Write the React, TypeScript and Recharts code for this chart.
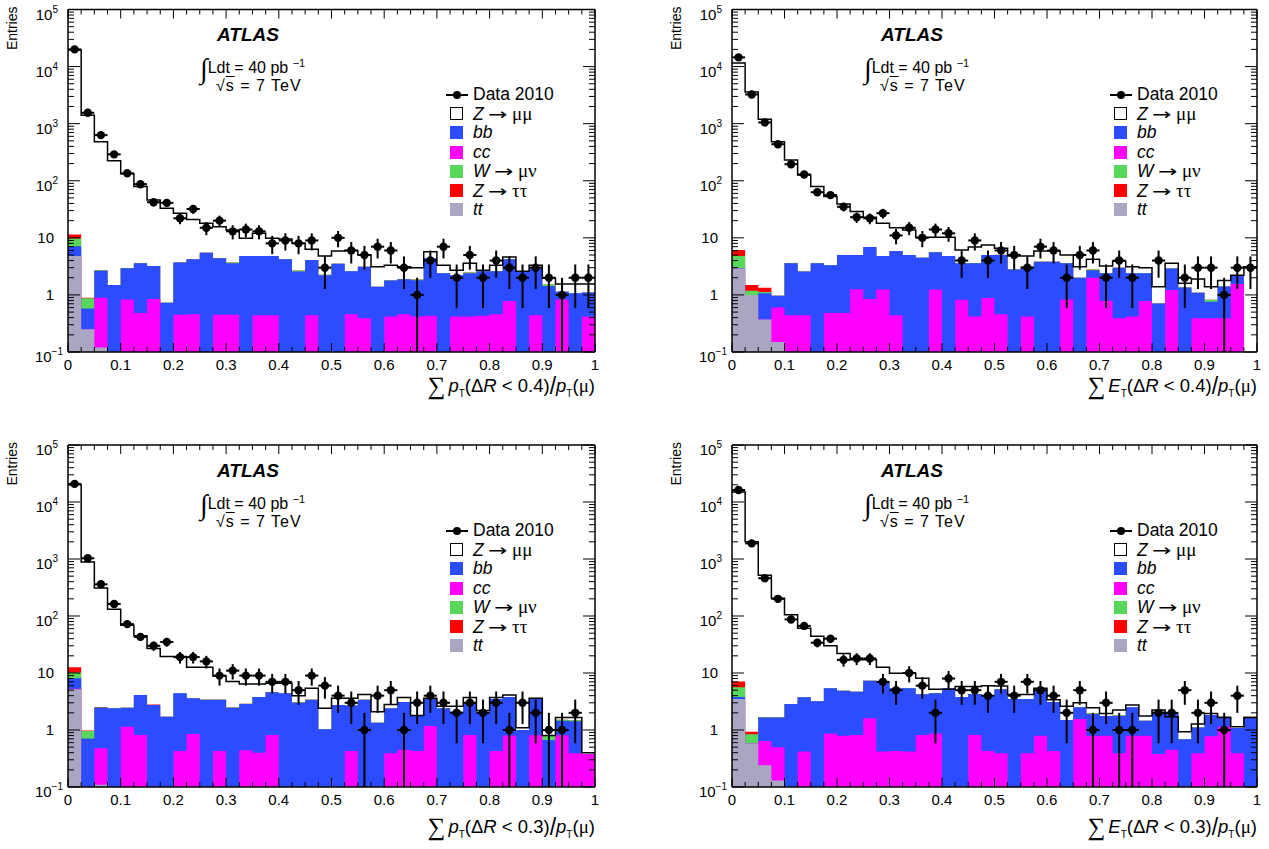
import React from "react";
import {
  ComposedChart,
  Area,
  Line,
  Scatter,
  ErrorBar,
  XAxis,
  YAxis,
  Legend,
  ReferenceLine,
} from "recharts";

const FONT = '"Liberation Sans", Arial, Helvetica, sans-serif';
const GREEK = '"Liberation Serif", "DejaVu Serif", serif';
const BIN_W = 0.025;
const N_BINS = 40;

const COLORS = {
  bb: "#2b4cff",
  cc: "#ff00ff",
  wmn: "#58d85a",
  ztt: "#ff0000",
  tt: "#a8a6c1",
};

// axis ticks (majors get labels, the rest are minor tick marks)
const xTicks = Array.from({ length: N_BINS + 1 }, (_, i) => i * BIN_W);
const yMajor = [0.1, 1, 10, 100, 1000, 10000, 100000];
const yTicks = [
  ...yMajor,
  ...yMajor.slice(0, -1).flatMap((d) => [2, 3, 4, 5, 6, 7, 8, 9].map((k) => k * d)),
].sort((a, b) => a - b);

// ---- panel 1: sum pT (dR < 0.4) / pT(mu)
const p1Data = [20000, 1550, 630, 290, 135, 87, 42, 41, 22, 32, 15, 20, 13, 14, 13, 8, 9, 8, 9, 3, 10, 6, 5, 7, 6, 3, 1, 4, 7, 2, 5, 2, 4, 3, 2, 3, 2, 1, 2, 2];
const p1Total = [19500, 1410, 480, 224, 132, 79, 46, 33, 27, 21, 18, 15.6, 13.7, 9.8, 12, 9.8, 9.5, 8.0, 6.3, 4.8, 5.9, 6.0, 5.0, 3.1, 3.3, 3.1, 3.0, 5.7, 3.3, 2.7, 3.6, 2.7, 3.3, 4.6, 2.6, 3.3, 1.95, 1.55, 1.55, 1.55];
const p1Bb = [2.3, 0.33, 1.76, 1.49, 2.1, 3.1, 2.35, 0.73, 3.25, 3.74, 5.5, 3.95, 3.15, 4.8, 4.36, 4.36, 4.2, 2.56, 3.66, 2.2, 3.5, 2.14, 2.71, 1.39, 1.36, 1.42, 1.38, 3.97, 2.4, 1.78, 1.98, 2.17, 2.14, 3.42, 2.6, 2.46, 1.44, 0.31, 1.07, 0.68];
const p1Cc = [0, 0, 0.77, 0, 0.83, 0.48, 0.85, 0, 0.45, 0.46, 0, 0.45, 0.45, 0, 0.44, 0.44, 0, 0, 0.44, 0, 0, 0.46, 0.39, 0, 0.42, 0.46, 0.42, 0.43, 0, 0.42, 0.42, 0.43, 0.46, 0.78, 0, 0.44, 0, 0.83, 0, 0.42];
const p1Wmn = [2.6, 0.29, 0.05, 0, 0, 0, 0, 0, 0, 0, 0, 0, 0.1, 0, 0, 0, 0, 0.12, 0, 0.05, 0, 0, 0, 0, 0, 0, 0.06, 0, 0, 0, 0.06, 0, 0, 0, 0, 0, 0.08, 0, 0, 0];
const p1Ztt = [1.7, 0.02];
const p1Tt = [4.8, 0.25, 0.12];

// ---- panel 2: sum ET (dR < 0.4) / pT(mu)
const p2Data = [14500, 3250, 1050, 437, 195, 129, 63, 56, 35, 23, 22, 27, 11, 15, 10, 14, 12, 4, 9, 4, 6, 5, 3, 7, 6, 2, 5, 6, 2, 4, 2, 0, 4, 0, 2, 3, 3, 1, 3, 3];
const p2Total = [11500, 3600, 1200, 480, 230, 126, 79, 53, 39, 29, 23, 18, 15, 13.7, 10.2, 10.2, 10.2, 6.1, 6.9, 7.5, 6.6, 4.8, 4.8, 5.9, 5.9, 5.0, 3.1, 4.2, 3.2, 3.9, 3.1, 3.0, 1.39, 3.6, 1.6, 1.9, 1.39, 1.78, 2.2, 3.1];
const p2Bb = [0, 0, 0.7, 0.37, 3.16, 2.12, 3.6, 2.82, 4.52, 3.74, 6.05, 3.56, 5.46, 5.0, 4.5, 4.36, 4.8, 2.78, 3.18, 4.12, 4.54, 2.8, 2.68, 3.8, 3.8, 2.77, 2.0, 0.7, 1.61, 2.61, 1.98, 1.62, 0.71, 1.68, 1.35, 0.7, 0.37, 1.01, 0.65, 0];
const p2Cc = [0, 0, 0, 0.45, 0.44, 0.44, 0, 0.48, 0.48, 1.26, 0.85, 1.24, 0.44, 0, 0, 1.24, 0, 0.82, 0.42, 0.88, 0.46, 0, 0.42, 0, 0, 0.83, 0, 2.0, 0.79, 0.39, 0.42, 0.78, 0, 1.22, 0, 0.39, 0.39, 0.39, 1.55, 0];
const p2Wmn = [1.9, 0.18, 0.05, 0, 0, 0, 0, 0, 0, 0, 0, 0, 0, 0, 0, 0, 0, 0, 0, 0, 0.05, 0, 0.05, 0, 0, 0, 0, 0.1, 0, 0, 0, 0, 0, 0, 0, 0, 0.06, 0, 0, 0];
const p2Ztt = [1.3, 0.31, 0.22];
const p2Tt = [2.9, 1.0, 0.37, 0.15];

// ---- panel 3: sum pT (dR < 0.3) / pT(mu)
const p3Data = [20800, 1030, 360, 163, 72, 43, 30, 35, 19, 19, 16, 9, 11, 9, 9, 7, 7, 5, 9, 6, 4, 3, 1, 4, 5, 1, 3, 4, 3, 2, 3, 2, 3, 1, 3, 2, 1, 1, 2, 0];
const p3Total = [20000, 890, 310, 132, 69, 45, 27, 19.4, 19.4, 12.6, 12.6, 8.9, 7.1, 6.4, 6.4, 6.6, 6.6, 4.0, 5.4, 2.4, 3.6, 3.6, 4.2, 2.1, 2.8, 3.7, 1.8, 3.6, 2.6, 2.6, 3.7, 2.2, 3.7, 4.1, 1.1, 3.6, 0.8, 1.66, 1.66, 0.4];
const p3Bb = [2.8, 0.71, 1.97, 2.4, 1.31, 3.28, 2.75, 1.7, 3.97, 2.75, 3.4, 2.97, 2.45, 2.41, 3.4, 3.78, 4.4, 3.0, 3.4, 1.03, 2.75, 2.27, 3.4, 1.34, 2.01, 2.65, 1.33, 2.33, 2.4, 2.1, 2.28, 2.0, 3.07, 3.0, 1.0, 2.69, 0.67, 0.65, 1.04, 0];
const p3Cc = [0.1, 0, 0.37, 0, 1.14, 0.82, 0, 0, 0.43, 0.85, 0, 0.43, 0, 0.44, 0.4, 0.82, 0, 0, 0, 0, 0, 0.43, 0, 0, 0.39, 0.45, 0.43, 1.17, 0, 0, 0.82, 0, 0.43, 0.8, 0, 0.81, 0, 0.81, 0.39, 0.38];
const p3Wmn = [2.1, 0.25, 0.03, 0, 0, 0, 0, 0, 0, 0, 0, 0, 0.04, 0.04, 0, 0, 0, 0.06, 0, 0, 0, 0, 0, 0, 0, 0, 0, 0, 0, 0, 0, 0.1, 0, 0, 0, 0, 0.13, 0.05, 0.05, 0];
const p3Ztt = [2.4, 0.02, 0.05, 0, 0, 0, 0.05];
const p3Tt = [5.2, 0, 0.11];

// ---- panel 4: sum ET (dR < 0.3) / pT(mu)
const p4Data = [16200, 1880, 460, 200, 87, 67, 34, 40, 17, 18, 18, 7, 5, 10, 6, 2, 8, 5, 5, 4, 7, 4, 7, 5, 4, 2, 5, 1, 3, 1, 1, 0, 2, 2, 5, 2, 3, 1, 4, 0];
const p4Total = [15000, 2000, 520, 205, 105, 61, 44, 30, 22, 17, 17, 12.6, 9.9, 9.9, 8.1, 5.2, 5.2, 5.8, 5.8, 6.0, 5.9, 4.2, 4.2, 5.4, 3.4, 2.6, 3.0, 2.45, 1.95, 2.25, 2.75, 1.76, 2.25, 1.7, 0.93, 1.27, 1.95, 1.66, 1.14, 1.66];
const p4Bb = [0.3, 0, 1.02, 1.16, 2.86, 3.33, 3.2, 4.53, 4.11, 3.88, 5.7, 6.48, 4.97, 4.98, 3.43, 3.53, 5.4, 3.8, 3.48, 3.6, 4.81, 3.5, 3.11, 4.11, 2.67, 1.5, 0.94, 1.11, 0.97, 1.37, 1.71, 0.67, 1.72, 1.55, 0.69, 0.72, 1.05, 0.56, 0.69, 1.66];
const p4Cc = [0, 0, 0.4, 0.37, 0, 0.42, 0, 0.87, 0.79, 0.82, 1.6, 0.42, 0.43, 0.42, 0.82, 0.87, 0, 0, 0.82, 0.43, 0.39, 0, 0.39, 0.79, 0.43, 0, 1.56, 0.79, 0.79, 0.39, 0.79, 0.79, 0.38, 0.45, 0, 0.39, 0.78, 1.14, 0.39, 0];
const p4Wmn = [1.8, 0.26, 0.02, 0, 0, 0, 0, 0, 0, 0, 0, 0, 0, 0, 0, 0, 0, 0, 0, 0, 0, 0, 0, 0, 0, 0, 0, 0.06, 0, 0.05, 0, 0, 0, 0, 0, 0, 0, 0, 0, 0.05];
const p4Ztt = [1.5, 0.09];
const p4Tt = [3.5, 0.58, 0.24, 0.13];

type Series = {
  data: number[];
  total: number[];
  bb: number[];
  cc: number[];
  wmn: number[];
  ztt: number[];
  tt: number[];
};

const floorLog = (v: number) => Math.max(v, 0.1);

// cumulative stack (tt, cc, bb, W, Ztautau) + total, one row per bin edge
function buildRows(s: Series) {
  const rows = [];
  for (let k = 0; k <= N_BINS; k++) {
    const i = Math.min(k, N_BINS - 1);
    const tt = s.tt[i] ?? 0;
    const cc = tt + (s.cc[i] ?? 0);
    const bb = cc + (s.bb[i] ?? 0);
    const wmn = bb + (s.wmn[i] ?? 0);
    const ztt = wmn + (s.ztt[i] ?? 0);
    rows.push({
      x: k * BIN_W,
      tt: floorLog(tt),
      cc: floorLog(cc),
      bb: floorLog(bb),
      wmn: floorLog(wmn),
      ztt: floorLog(ztt),
      total: floorLog(s.total[i]),
    });
  }
  return rows;
}

function buildPoints(data: number[]) {
  return data
    .map((n, i) => ({
      x: (i + 0.5) * BIN_W,
      y: n,
      ex: BIN_W / 2,
      ey: [Math.min(Math.sqrt(n), n - 0.1), Math.sqrt(n)],
    }))
    .filter((p) => p.y > 0);
}

const isWhole = (v: number) => Math.abs(v - Math.round(v)) < 1e-6;
const fmtX = (v: number) => String(Math.round(v * 10) / 10);

// x ticks: inward marks on bottom and top of the frame, labels on majors
const makeXTick = (plotTop: number) => (p: any) => {
  const v = p.payload.value;
  const major = isWhole(v * 10);
  const yb = p.y - 7;
  const len = major ? 9 : 5;
  return (
    <g>
      <line x1={p.x} y1={yb} x2={p.x} y2={yb - len} stroke="#000" />
      <line x1={p.x} y1={plotTop} x2={p.x} y2={plotTop + len} stroke="#000" />
      {major && (
        <text x={p.x} y={p.y} dy="0.75em" textAnchor="middle" fontFamily={FONT} fontSize={15} fill="#000">
          {fmtX(v)}
        </text>
      )}
    </g>
  );
};

// y ticks: inward marks on left and right of the frame, 10^n labels
const makeYTick = (plotRight: number) => (p: any) => {
  const v = p.payload.value;
  const lg = Math.log10(v);
  const major = isWhole(lg);
  const xl = p.x + 8;
  const len = major ? 12 : 6;
  const e = Math.round(lg);
  const base = { y: p.y, fontFamily: FONT, fontSize: 15, fill: "#000", textAnchor: "end" as const };
  let label = null;
  if (major) {
    if (e === 0 || e === 1) {
      label = (
        <text {...base} x={xl - 14} dy={5}>
          {e === 0 ? "1" : "10"}
        </text>
      );
    } else {
      label = (
        <text {...base} x={xl - (e < 0 ? 5 : 10)} dy={10}>
          <tspan>10</tspan>
          <tspan dy={-7} fontSize={10}>
            {e < 0 ? "\u22121" : String(e)}
          </tspan>
        </text>
      );
    }
  }
  return (
    <g>
      <line x1={xl} y1={p.y} x2={xl + len} y2={p.y} stroke="#000" />
      <line x1={plotRight} y1={p.y} x2={plotRight - len} y2={p.y} stroke="#000" />
      {label}
    </g>
  );
};

const EntriesLabel = (p: any) => {
  const vb = p.viewBox || { x: 0, y: 0 };
  return (
    <text
      transform={`translate(${vb.x + 17},${vb.y - 3}) rotate(-90)`}
      textAnchor="end"
      fontFamily={FONT}
      fontSize={14}
      fill="#000"
    >
      Entries
    </text>
  );
};

const dotShape = (p: any) => <circle cx={p.cx} cy={p.cy} r={4.2} fill="#000" />;

const swatch = (color: string, border?: boolean) => (
  <span
    style={{
      display: "inline-block",
      width: 13,
      height: 13,
      background: color,
      boxSizing: "border-box",
      border: border ? "1.5px solid #000" : "none",
    }}
  />
);

const Arrow = () => (
  <span
    style={{
      display: "inline-block",
      fontFamily: '"DejaVu Sans", sans-serif',
      fontSize: 16,
      transform: "scaleX(1.45)",
      margin: "0 8px 0 7px",
    }}
  >
    →
  </span>
);
const Gr = ({ t, size = 19 }: { t: string; size?: number }) => (
  <span style={{ fontFamily: GREEK, fontSize: size }}>{t}</span>
);

const legendRows = [
  {
    key: "data",
    marker: (
      <svg width={22} height={10}>
        <line x1={0} y1={5} x2={22} y2={5} stroke="#000" strokeWidth={2} />
        <circle cx={11} cy={5} r={4} fill="#000" />
      </svg>
    ),
    label: <>Data 2010</>,
  },
  { key: "zmm", marker: swatch("#fff", true), label: <><i>Z</i><Arrow /><Gr t="μμ" /></> },
  { key: "bb", marker: swatch(COLORS.bb), label: <i>bb</i> },
  { key: "cc", marker: swatch(COLORS.cc), label: <i>cc</i> },
  { key: "wmn", marker: swatch(COLORS.wmn), label: <><i>W</i><Arrow /><Gr t="μν" /></> },
  { key: "ztt", marker: swatch(COLORS.ztt), label: <><i>Z</i><Arrow /><Gr t="ττ" /></> },
  { key: "tt", marker: swatch(COLORS.tt), label: <i>tt</i> },
];

const LegendBox = () => (
  <div style={{ fontFamily: FONT, fontSize: 17.5, color: "#000" }}>
    {legendRows.map((r) => (
      <div key={r.key} style={{ display: "flex", alignItems: "center", height: 19.2 }}>
        <span style={{ width: 23, display: "inline-flex", justifyContent: "center" }}>
          {r.marker}
        </span>
        <span style={{ marginLeft: 5, whiteSpace: "nowrap", lineHeight: "19px" }}>{r.label}</span>
      </div>
    ))}
  </div>
);

const AtlasText = () => (
  <>
    <div
      style={{
        position: "absolute",
        left: 198,
        top: 25,
        width: 100,
        textAlign: "center",
        fontFamily: FONT,
        fontSize: 19,
        lineHeight: "20px",
        fontWeight: "bold",
        fontStyle: "italic",
      }}
    >
      ATLAS
    </div>
    <div
      style={{
        position: "absolute",
        left: 200,
        top: 52,
        fontFamily: FONT,
        fontSize: 16,
        lineHeight: "22px",
        whiteSpace: "nowrap",
      }}
    >
      <span style={{ fontSize: 28, verticalAlign: "-5px", fontFamily: GREEK }}>∫</span>
      Ldt = 40 pb <sup style={{ fontSize: 11 }}>−1</sup>
    </div>
    <div
      style={{
        position: "absolute",
        left: 216,
        top: 76,
        fontFamily: FONT,
        fontSize: 16,
        lineHeight: "20px",
        letterSpacing: "1px",
        whiteSpace: "nowrap",
      }}
    >
      √<span style={{ textDecoration: "overline" }}>s</span> = 7 TeV
    </div>
  </>
);

const XTitle = ({ v, dr, right, top }: { v: string; dr: string; right: number; top: number }) => (
  <div
    style={{
      position: "absolute",
      right,
      top,
      fontFamily: FONT,
      fontSize: 18.5,
      lineHeight: "18px",
      whiteSpace: "nowrap",
    }}
  >
    <span
      style={{
        display: "inline-block",
        fontSize: 25,
        lineHeight: "16px",
        verticalAlign: "-2px",
        fontFamily: GREEK,
      }}
    >
      ∑
    </span>
    <i style={{ marginLeft: 3 }}>{v}</i>
    <sub style={{ fontSize: 10, lineHeight: "10px" }}>T</sub>
    (Δ<i>R</i> &lt; {dr})
    <span style={{ display: "inline-block", fontSize: 23, lineHeight: "16px", verticalAlign: "-2px" }}>/</span>
    <i>p</i>
    <sub style={{ fontSize: 10, lineHeight: "10px" }}>T</sub>
    (<Gr t="μ" size={19} />)
  </div>
);

type PanelProps = {
  left: number;
  top: number;
  width: number;
  height: number;
  plotTop: number;
  rightMargin: number;
  axisH: number;
  titleDy: number;
  v: string;
  dr: string;
  s: Series;
};

function Panel({ left, top, width, height, plotTop, rightMargin, axisH, titleDy, v, dr, s }: PanelProps) {
  const rows = buildRows(s);
  const pts = buildPoints(s.data);
  const plotRight = width - rightMargin;
  const plotBottom = height - axisH;
  const frame = { stroke: "#000", strokeWidth: 1.5 };
  return (
    <div style={{ position: "absolute", left, top, width, height }}>
      <ComposedChart
        width={width}
        height={height}
        data={rows}
        margin={{ top: plotTop, right: rightMargin, bottom: 0, left: 0 }}
      >
        <XAxis
          dataKey="x"
          type="number"
          domain={[0, 1]}
          allowDataOverflow
          ticks={xTicks}
          interval={0}
          height={axisH}
          tickLine={false}
          tickSize={0}
          tickMargin={7}
          tick={makeXTick(plotTop)}
          axisLine={frame}
        />
        <YAxis
          type="number"
          scale="log"
          domain={[0.1, 100000]}
          allowDataOverflow
          ticks={yTicks}
          interval={0}
          width={68}
          tickLine={false}
          tickSize={6}
          tickMargin={2}
          tick={makeYTick(plotRight)}
          axisLine={frame}
          label={<EntriesLabel />}
        />

        <Area type="stepAfter" dataKey="ztt" baseValue={0.1} fill={COLORS.ztt} fillOpacity={1} stroke="none" dot={false} activeDot={false} isAnimationActive={false} />
        <Area type="stepAfter" dataKey="wmn" baseValue={0.1} fill={COLORS.wmn} fillOpacity={1} stroke="none" dot={false} activeDot={false} isAnimationActive={false} />
        <Area type="stepAfter" dataKey="bb" baseValue={0.1} fill={COLORS.bb} fillOpacity={1} stroke="none" dot={false} activeDot={false} isAnimationActive={false} />
        <Area type="stepAfter" dataKey="cc" baseValue={0.1} fill={COLORS.cc} fillOpacity={1} stroke="none" dot={false} activeDot={false} isAnimationActive={false} />
        <Area type="stepAfter" dataKey="tt" baseValue={0.1} fill={COLORS.tt} fillOpacity={1} stroke="none" dot={false} activeDot={false} isAnimationActive={false} />
        <Line type="stepAfter" dataKey="total" stroke="#000" strokeWidth={1.5} dot={false} activeDot={false} isAnimationActive={false} />
        <Scatter data={pts} dataKey="y" fill="#000" shape={dotShape} isAnimationActive={false}>
          <ErrorBar dataKey="ex" direction="x" width={0} stroke="#000" strokeWidth={2} />
          <ErrorBar dataKey="ey" direction="y" width={0} stroke="#000" strokeWidth={2} />
        </Scatter>
        <ReferenceLine y={100000} {...frame} />
        <ReferenceLine x={1} {...frame} />
        <Legend
          layout="vertical"
          align="center"
          verticalAlign="middle"
          content={() => <LegendBox />}
          wrapperStyle={{ left: 445, top: 85, width: 170, height: "auto" }}
        />
      </ComposedChart>
      <AtlasText />
      <XTitle v={v} dr={dr} right={rightMargin} top={plotBottom + titleDy - 9} />
    </div>
  );
}

const panels: PanelProps[] = [
  { left: 0, top: 0, width: 634, height: 424, plotTop: 9.5, rightMargin: 39, axisH: 72, titleDy: 34, v: "p", dr: "0.4",
    s: { data: p1Data, total: p1Total, bb: p1Bb, cc: p1Cc, wmn: p1Wmn, ztt: p1Ztt, tt: p1Tt } },
  { left: 664, top: 0, width: 605, height: 424, plotTop: 9.5, rightMargin: 12, axisH: 72, titleDy: 34, v: "E", dr: "0.4",
    s: { data: p2Data, total: p2Total, bb: p2Bb, cc: p2Cc, wmn: p2Wmn, ztt: p2Ztt, tt: p2Tt } },
  { left: 0, top: 436, width: 634, height: 413, plotTop: 9, rightMargin: 39, axisH: 62, titleDy: 40, v: "p", dr: "0.3",
    s: { data: p3Data, total: p3Total, bb: p3Bb, cc: p3Cc, wmn: p3Wmn, ztt: p3Ztt, tt: p3Tt } },
  { left: 664, top: 436, width: 605, height: 413, plotTop: 9, rightMargin: 12, axisH: 62, titleDy: 40, v: "E", dr: "0.3",
    s: { data: p4Data, total: p4Total, bb: p4Bb, cc: p4Cc, wmn: p4Wmn, ztt: p4Ztt, tt: p4Tt } },
];

export default function App() {
  return (
    <div
      style={{
        position: "absolute",
        left: 0,
        top: 0,
        width: 1269,
        height: 849,
        background: "#fff",
        fontFamily: FONT,
      }}
    >
      {panels.map((p, i) => (
        <Panel key={i} {...p} />
      ))}
    </div>
  );
}
